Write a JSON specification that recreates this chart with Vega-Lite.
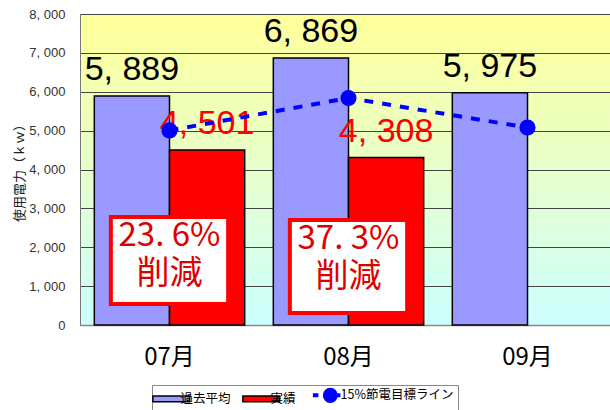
{
  "$schema": "https://vega.github.io/schema/vega-lite/v6.json",
  "width": 537,
  "height": 311,
  "autosize": "none",
  "padding": {"left": 80, "top": 14, "right": 0, "bottom": 85},
  "background": "white",
  "config": {
    "view": {
      "fill": {"gradient": "linear", "x1": 0, "y1": 0, "x2": 0, "y2": 1,
        "stops": [{"offset": 0, "color": "#ffff99"}, {"offset": 0.5, "color": "#e6ffcc"}, {"offset": 1, "color": "#ccffff"}]},
      "stroke": "#888"
    },
    "axisY": {
      "tickCount": 8,
      "labelExpr": "replace(format(datum.value, ','), ',', ', ')",
      "labelFont": "Liberation Sans", "labelFontSize": 13, "labelColor": "#333", "labelPadding": 15,
      "ticks": false, "domainColor": "#777", "gridColor": "#444", "gridWidth": 1,
      "titleFont": "Noto Sans CJK JP", "titleFontSize": 13, "titleFontWeight": "normal", "titleColor": "#222", "titlePadding": 2
    },
    "legend": {
      "orient": "none", "legendX": 72, "legendY": 371, "direction": "horizontal",
      "strokeColor": "#888", "fillColor": "#fff", "padding": 4,
      "labelFont": "Noto Sans CJK JP", "labelFontSize": 12.5, "labelColor": "#000", "labelOffset": 3, "columnPadding": 8,
      "symbolOffset": 9,
      "symbolSize": 1350, "symbolType": "M-1,-0.16H1V0.16H-1Z", "symbolStrokeColor": "#000", "symbolStrokeWidth": 1.5, "symbolOpacity": 1
    }
  },
  "datasets": {
    "bars": [
      {"month": "07月", "series": "過去平均", "value": 5889, "label": "5, 889"},
      {"month": "07月", "series": "実績", "value": 4501, "label": "4, 501"},
      {"month": "08月", "series": "過去平均", "value": 6869, "label": "6, 869"},
      {"month": "08月", "series": "実績", "value": 4308, "label": "4, 308"},
      {"month": "09月", "series": "過去平均", "value": 5975, "label": "5, 975"}
    ],
    "target": [
      {"month": "07月", "target": 5005},
      {"month": "08月", "target": 5839},
      {"month": "09月", "target": 5079}
    ],
    "notes": [
      {"month": "07月", "label": "23. 6%\n削減", "hi": 2776, "lo": 540},
      {"month": "08月", "label": "37. 3%\n削減", "hi": 2699, "lo": 308}
    ]
  },
  "encoding": {
    "x": {"field": "month", "type": "nominal", "sort": ["07月", "08月", "09月"],
      "scale": {"paddingInner": 0.16, "paddingOuter": 0.08},
      "axis": {"title": null, "labelAngle": 0, "labelFont": "Liberation Sans Narrow, Noto Sans CJK JP", "labelFontSize": 24, "labelColor": "#000", "labelPadding": 20, "ticks": false, "domainColor": "#888", "domainWidth": 1.5}}
  },
  "layer": [
    {
      "data": {"name": "bars"},
      "mark": {"type": "bar", "stroke": "#000", "strokeWidth": 1.5},
      "encoding": {
        "xOffset": {"field": "series", "type": "nominal", "sort": ["過去平均", "実績"], "scale": {"domain": ["過去平均", "実績"]}},
        "y": {"field": "value", "type": "quantitative", "scale": {"domain": [0, 8000], "nice": false},
          "axis": {"title": "使用電力（ｋｗ）"}},
        "color": {"field": "series", "type": "nominal",
          "scale": {"domain": ["過去平均", "実績", "15%節電目標ライン"], "range": ["#9999ff", "#ff0000", "#0000ff"]},
          "legend": {"title": null,
            "labelExpr": "'　　　' + datum.label",
            "encode": {"symbols": {"update": {
              "shape": {"signal": "datum.value === '15%節電目標ライン' ? 'M-1,0H-0.7M-0.35,0A0.3,0.3 0 1,1 0.25,0A0.3,0.3 0 1,1 -0.35,0M0.25,0H0.5' : 'M-1,-0.16H1V0.16H-1Z'"},
              "size": {"value": 1350},
              "stroke": {"signal": "datum.value === '15%節電目標ライン' ? '#0000ff' : '#000'"},
              "strokeWidth": {"signal": "datum.value === '15%節電目標ライン' ? 4 : 1.5"}
            }}}}}
      }
    },
    {
      "data": {"name": "notes"},
      "mark": {"type": "bar", "fill": "white", "stroke": "#ff0000", "strokeWidth": 4, "width": {"band": 0.78}},
      "encoding": {
        "y": {"field": "hi", "type": "quantitative"},
        "y2": {"field": "lo"}
      }
    },
    {
      "data": {"name": "notes"},
      "mark": {"type": "text", "font": "Liberation Sans Narrow, Noto Sans CJK JP", "fontSize": 33, "color": "#dd0000", "baseline": "top", "dy": 3, "lineHeight": 38, "lineBreak": "\n"},
      "encoding": {
        "y": {"field": "hi", "type": "quantitative"},
        "text": {"field": "label"}
      }
    },
    {
      "data": {"name": "bars"},
      "mark": {"type": "text", "font": "Liberation Sans Narrow, Liberation Sans", "fontSize": 34, "baseline": "alphabetic", "dy": -16},
      "encoding": {
        "xOffset": {"field": "series", "type": "nominal", "sort": ["過去平均", "実績"]},
        "y": {"field": "value", "type": "quantitative"},
        "text": {"field": "label"},
        "color": {"condition": {"test": "datum.series === '実績'", "value": "#ff0000"}, "value": "#000"}
      }
    },
    {
      "data": {"name": "target"},
      "mark": {"type": "line", "strokeDash": [9, 9], "strokeWidth": 4, "color": "#0000ff"},
      "encoding": {
        "y": {"field": "target", "type": "quantitative"}
      }
    },
    {
      "data": {"name": "target"},
      "mark": {"type": "point", "filled": true, "size": 260, "opacity": 1, "color": "#0000ff"},
      "encoding": {
        "y": {"field": "target", "type": "quantitative"}
      }
    }
  ]
}
